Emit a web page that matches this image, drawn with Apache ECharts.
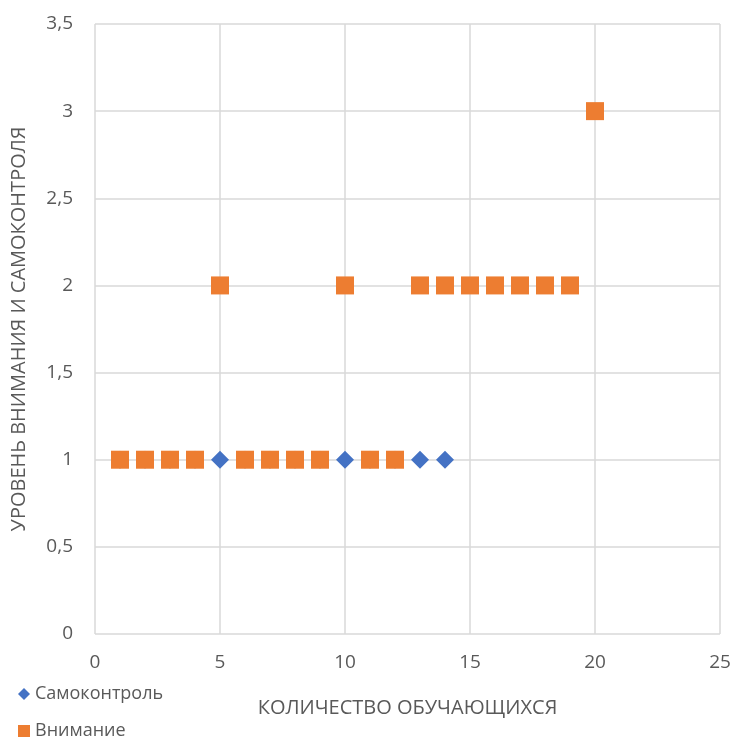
<!DOCTYPE html>
<html>
<head>
<meta charset="utf-8">
<script src="https://cdn.jsdelivr.net/npm/echarts@6/dist/echarts.min.js"></script>
<style>
  html, body { margin: 0; padding: 0; background: #fff; }
  #chart { width: 735px; height: 738px; }
</style>
</head>
<body>
<div id="chart"></div>
<script>
// Students (x) and their levels (y)
const selfControlX = [1, 2, 3, 4, 5, 6, 7, 8, 9, 10, 11, 12, 13, 14];
const selfControlY = [1, 1, 1, 1, 1, 1, 1, 1, 1, 1, 1, 1, 1, 1];
const attentionX = [1, 2, 3, 4, 5, 6, 7, 8, 9, 10, 11, 12, 13, 14, 15, 16, 17, 18, 19, 20];
const attentionY = [1, 1, 1, 1, 2, 1, 1, 1, 1, 2, 1, 1, 2, 2, 2, 2, 2, 2, 2, 3];

const seriesNames = ['Самоконтроль', 'Внимание'];
const xTitle = 'КОЛИЧЕСТВО ОБУЧАЮЩИХСЯ';
const yTitle = 'УРОВЕНЬ ВНИМАНИЯ И САМОКОНТРОЛЯ';

const pair = (xs, ys) => xs.map((x, i) => [x, ys[i]]);
const fmt = v => String(v).replace('.', ',');

const font = '"Open Sans", "Noto Sans", sans-serif';
const textColor = '#595959';
const gridColor = '#d9d9d9';

const legendBase = {
  left: 13,
  orient: 'vertical',
  itemWidth: 12,
  itemHeight: 12,
  itemGap: 4,
  textStyle: { color: textColor, fontSize: 18, fontFamily: font }
};

const chart = echarts.init(document.getElementById('chart'), null, { renderer: 'canvas' });
chart.setOption({
  animation: false,
  textStyle: { fontFamily: font },
  grid: { left: 95, right: 15, top: 24, bottom: 104 },
  legend: [
    Object.assign({}, legendBase, { top: 680, data: [{ name: seriesNames[0], icon: 'diamond' }] }),
    Object.assign({}, legendBase, { top: 717, data: [{ name: seriesNames[1], icon: 'rect' }] })
  ],
  xAxis: {
    type: 'value',
    min: 0, max: 25, interval: 5,
    name: xTitle,
    nameLocation: 'middle',
    nameGap: 64,
    nameTextStyle: { color: textColor, fontSize: 20, fontFamily: font },
    axisLine: { show: false },
    axisTick: { show: false },
    axisLabel: { color: textColor, fontSize: 19, margin: 19, fontFamily: font, formatter: fmt },
    splitLine: { show: true, lineStyle: { color: gridColor, width: 1.5 } }
  },
  yAxis: {
    type: 'value',
    min: 0, max: 3.5, interval: 0.5,
    name: yTitle,
    nameLocation: 'middle',
    nameGap: 66,
    nameRotate: 90,
    nameTextStyle: { color: textColor, fontSize: 20, fontFamily: font },
    axisLine: { show: false },
    axisTick: { show: false },
    axisLabel: { color: textColor, fontSize: 19, margin: 22, fontFamily: font, formatter: fmt },
    splitLine: { show: true, lineStyle: { color: gridColor, width: 1.5 } }
  },
  series: [
    {
      name: seriesNames[0],
      type: 'scatter',
      symbol: 'diamond',
      symbolSize: 18,
      itemStyle: { color: '#4472C4', opacity: 1 },
      z: 2,
      data: pair(selfControlX, selfControlY)
    },
    {
      name: seriesNames[1],
      type: 'scatter',
      symbol: 'rect',
      symbolSize: 18,
      itemStyle: { color: '#ED7D31', opacity: 1 },
      z: 3,
      data: pair(attentionX, attentionY)
    }
  ]
});
</script>
</body>
</html>
